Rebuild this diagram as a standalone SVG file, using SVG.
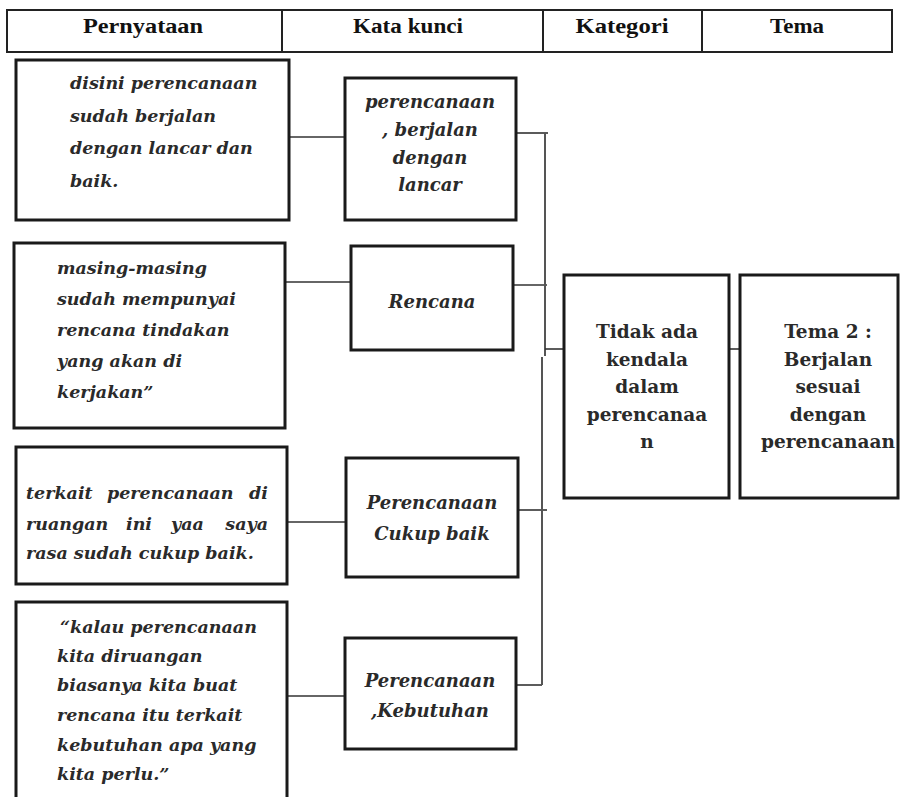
<svg xmlns="http://www.w3.org/2000/svg" width="901" height="797" viewBox="0 0 901 797">
  <style>
    .hdr { fill: none; stroke: #222; stroke-width: 2; }
    .htxt { font-family: "Liberation Serif", serif; font-weight: bold; font-size: 20px; fill: #111; text-anchor: middle; }
    .box { fill: #fff; stroke: #1a1a1a; stroke-width: 3; }
    .it { font-family: "DejaVu Serif", serif; font-style: italic; font-weight: bold; font-size: 17.5px; fill: #2a2a2a; }
    .kw { font-family: "DejaVu Serif", serif; font-style: italic; font-weight: bold; font-size: 18px; fill: #2a2a2a; text-anchor: middle; }
    .bd { font-family: "DejaVu Serif", serif; font-weight: bold; font-size: 18.5px; fill: #2a2a2a; text-anchor: middle; }
    .ln { fill: none; stroke: #333; stroke-width: 1.6; }
    .bus { fill: none; stroke: #555; stroke-width: 2; }
  </style>

  <!-- header row -->
  <g id="header">
    <rect class="hdr" x="7" y="10" width="885" height="42"/>
    <line class="hdr" x1="282" y1="10" x2="282" y2="52"/>
    <line class="hdr" x1="543" y1="10" x2="543" y2="52"/>
    <line class="hdr" x1="702" y1="10" x2="702" y2="52"/>
    <text class="htxt" x="143" y="33" textLength="120" lengthAdjust="spacingAndGlyphs">Pernyataan</text>
    <text class="htxt" x="408" y="33" textLength="110" lengthAdjust="spacingAndGlyphs">Kata kunci</text>
    <text class="htxt" x="622" y="33" textLength="93" lengthAdjust="spacingAndGlyphs">Kategori</text>
    <text class="htxt" x="797" y="33" textLength="54" lengthAdjust="spacingAndGlyphs">Tema</text>
  </g>

  <!-- connectors -->
  <g id="connectors">
    <polyline class="ln" points="289,137 345,137"/>
    <polyline class="ln" points="516,133 548,133"/>
    <polyline class="ln" points="285,282 351,282"/>
    <polyline class="ln" points="510,285 547,285"/>
    <polyline class="ln" points="287,522 346,522"/>
    <polyline class="ln" points="518,510 547,510"/>
    <polyline class="ln" points="283,696 345,696"/>
    <polyline class="ln" points="510,685 542,685"/>
    <line class="bus" x1="545" y1="133" x2="545" y2="356"/>
    <line class="bus" x1="542" y1="357" x2="542" y2="685"/>
    <polyline class="ln" points="545,349 563,349"/>
    <polyline class="ln" points="729,349 739,349"/>
  </g>

  <!-- statements -->
  <g id="statement-1">
    <rect class="box" x="16" y="60" width="273" height="160"/>
    <text class="it" x="70" y="89">disini perencanaan</text>
    <text class="it" x="70" y="121.5">sudah berjalan</text>
    <text class="it" x="70" y="154">dengan lancar dan</text>
    <text class="it" x="70" y="186.5">baik.</text>
  </g>
  <g id="statement-2">
    <rect class="box" x="14" y="243" width="271" height="185"/>
    <text class="it" x="57" y="274">masing-masing</text>
    <text class="it" x="57" y="305">sudah mempunyai</text>
    <text class="it" x="57" y="336">rencana tindakan</text>
    <text class="it" x="57" y="367">yang akan di</text>
    <text class="it" x="57" y="398">kerjakan”</text>
  </g>
  <g id="statement-3">
    <rect class="box" x="16" y="447" width="271" height="137"/>
    <!-- justified lines: words placed individually -->
    <text class="it" y="499"><tspan x="26">terkait</tspan><tspan x="107">perencanaan</tspan><tspan x="268" text-anchor="end">di</tspan></text>
    <text class="it" y="530"><tspan x="26">ruangan</tspan><tspan x="126">ini</tspan><tspan x="171">yaa</tspan><tspan x="268" text-anchor="end">saya</tspan></text>
    <text class="it" x="26" y="559">rasa sudah cukup baik.</text>
  </g>
  <g id="statement-4">
    <rect class="box" x="16" y="602" width="271" height="210"/>
    <text class="it" x="60" y="633">“kalau perencanaan</text>
    <text class="it" x="57" y="662">kita diruangan</text>
    <text class="it" x="57" y="691">biasanya kita buat</text>
    <text class="it" x="57" y="721">rencana itu terkait</text>
    <text class="it" x="57" y="751">kebutuhan apa yang</text>
    <text class="it" x="57" y="780">kita perlu.”</text>
  </g>

  <!-- keywords -->
  <g id="keyword-1">
    <rect class="box" x="345" y="78" width="171" height="142"/>
    <text class="kw" x="430" y="108">perencanaan</text>
    <text class="kw" x="430" y="136">, berjalan</text>
    <text class="kw" x="430" y="164">dengan</text>
    <text class="kw" x="430" y="191">lancar</text>
  </g>
  <g id="keyword-2">
    <rect class="box" x="351" y="246" width="162" height="104"/>
    <text class="kw" x="432" y="308">Rencana</text>
  </g>
  <g id="keyword-3">
    <rect class="box" x="346" y="458" width="172" height="119"/>
    <text class="kw" x="432" y="509">Perencanaan</text>
    <text class="kw" x="432" y="540">Cukup baik</text>
  </g>
  <g id="keyword-4">
    <rect class="box" x="345" y="638" width="171" height="111"/>
    <text class="kw" x="430" y="687">Perencanaan</text>
    <text class="kw" x="430" y="717">,Kebutuhan</text>
  </g>

  <!-- category -->
  <g id="category">
    <rect class="box" x="564" y="275" width="165" height="223"/>
    <text class="bd" x="647" y="338">Tidak ada</text>
    <text class="bd" x="647" y="365.5">kendala</text>
    <text class="bd" x="647" y="393">dalam</text>
    <text class="bd" x="647" y="420.5">perencanaa</text>
    <text class="bd" x="647" y="448">n</text>
  </g>

  <!-- theme -->
  <g id="theme">
    <rect class="box" x="740" y="275" width="158" height="223"/>
    <text class="bd" x="828" y="338">Tema 2 :</text>
    <text class="bd" x="828" y="365.5">Berjalan</text>
    <text class="bd" x="828" y="393">sesuai</text>
    <text class="bd" x="828" y="420.5">dengan</text>
    <text class="bd" x="828" y="448">perencanaan</text>
  </g>
</svg>
